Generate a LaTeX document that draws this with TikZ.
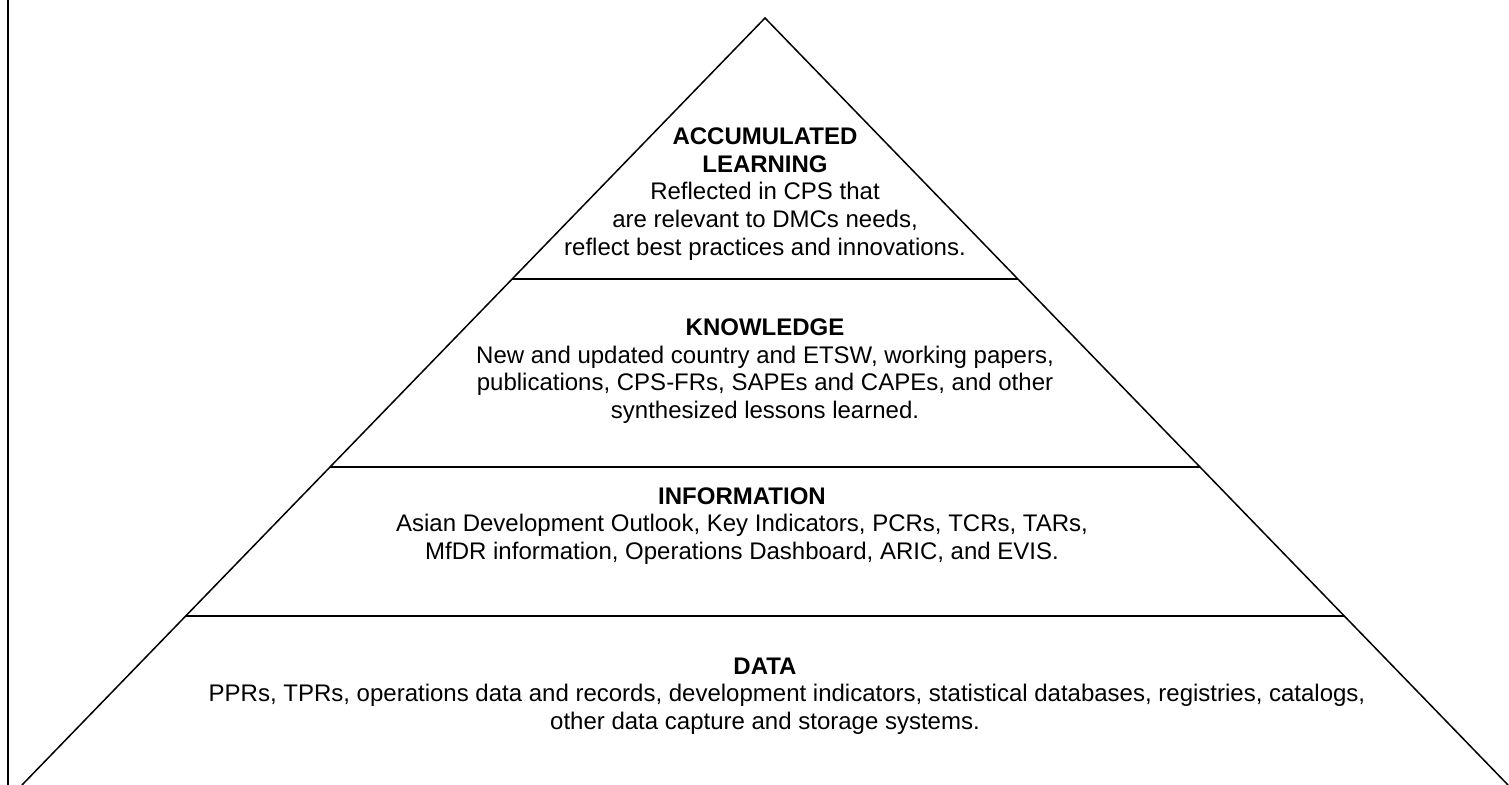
\documentclass[tikz,border=0pt]{standalone}
\usepackage{fontspec}
\setmainfont{Liberation Sans}
\usetikzlibrary{positioning}

\begin{document}
\begin{tikzpicture}[
  x=0.5pt, y=-0.5pt,
  layer/.style={align=center, inner sep=0pt, font=\fontsize{12}{13.8}\selectfont},
  side/.style={line width=0.75pt},
  divider/.style={line width=1pt}
]
\useasboundingbox (0,0) rectangle (1509,785);
\coordinate (apex) at (765,18);
\coordinate (bl) at (22,785);
\coordinate (br) at (1508,785);
\coordinate (ftop) at (7.5,0);
\coordinate (fbot) at (7.5,785);
\coordinate (d1l) at (512,279);
\coordinate (d1r) at (1018,279);
\coordinate (d2l) at (330,467);
\coordinate (d2r) at (1200,467);
\coordinate (d3l) at (186,616);
\coordinate (d3r) at (1344,616);
\draw[line width=1pt] (ftop) -- (fbot);
\draw[side] (bl) -- (apex) -- (br);
\draw[divider] (d1l) -- (d1r);
\draw[divider] (d2l) -- (d2r);
\draw[divider] (d3l) -- (d3r);
\node[layer] (acc) at (765,194) {\textbf{ACCUMULATED}\\\textbf{LEARNING}\\Reflected in CPS that\\are relevant to DMCs needs,\\reflect best practices and innovations.};
\node[layer] (know) at (765,371) {\textbf{KNOWLEDGE}\\New and updated country and ETSW, working papers,\\publications, CPS-FRs, SAPEs and CAPEs, and other\\synthesized lessons learned.};
\node[layer] (info) at (742,526) {\textbf{INFORMATION}\\Asian Development Outlook, Key Indicators, PCRs, TCRs, TARs,\\MfDR information, Operations Dashboard, ARIC, and EVIS.};
\node[layer] (data) at (765,696) {\textbf{DATA}\\\hspace*{22pt}PPRs, TPRs, operations data and records, development indicators, statistical databases, registries, catalogs,\\other data capture and storage systems.};
\end{tikzpicture}
\end{document}
